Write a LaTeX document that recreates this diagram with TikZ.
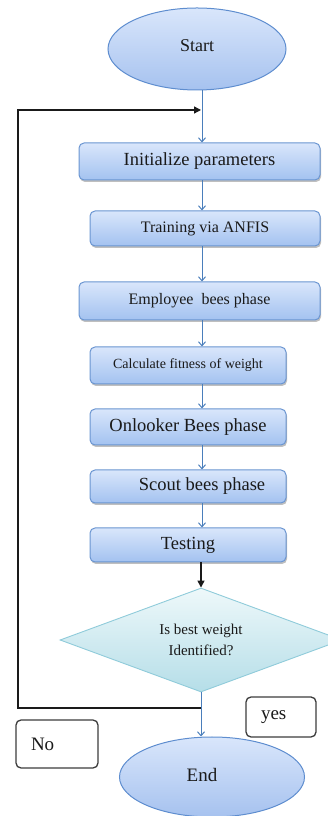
\documentclass[tikz,border=0pt]{standalone}
\usepackage{fontspec}
\setmainfont{Liberation Serif}
\usetikzlibrary{shapes.geometric,arrows.meta,shadows}

\definecolor{boxtop}{HTML}{D9E6FB}
\definecolor{boxbot}{HTML}{A3C2F0}
\definecolor{boxline}{HTML}{6A95D1}
\definecolor{elltop}{HTML}{D9E6FB}
\definecolor{ellbot}{HTML}{A6C2EF}
\definecolor{ellline}{HTML}{5E8DCF}
\definecolor{diatop}{HTML}{EEF8FA}
\definecolor{diabot}{HTML}{B5DEE8}
\definecolor{dialine}{HTML}{8FCBDA}
\definecolor{flow}{HTML}{4A7EBB}
\definecolor{ink}{HTML}{1A1A1A}

\newcommand{\fs}[1]{\fontsize{#1}{#1}\selectfont}

\tikzset{
  procbox/.style={rectangle, rounded corners=5pt, draw=boxline, line width=1pt,
    top color=boxtop, bottom color=boxbot, inner sep=0pt, text=ink,
    drop shadow={shadow xshift=1pt, shadow yshift=-2pt, opacity=0.25, fill=black}},
  terminal/.style={ellipse, draw=ellline, line width=1pt, top color=elltop,
    bottom color=ellbot, inner sep=0pt, text=ink},
  decision/.style={diamond, aspect=2.7, draw=dialine, line width=0.9pt,
    top color=diatop, bottom color=diabot, inner sep=0pt, text=ink, align=center},
  tagbox/.style={rectangle, rounded corners=5pt, draw=ink!85, line width=1.3pt,
    fill=white, align=left, inner xsep=15pt, text=ink, anchor=center},
  flowarrow/.style={draw=flow, line width=1pt, -{Straight Barb[length=4pt,width=7pt]}},
  blackarrow/.style={draw=ink, line width=1.4pt, -{Triangle[length=7pt,width=7pt]}},
}

\begin{document}
\begin{tikzpicture}[x=1pt,y=1pt]
  \useasboundingbox (0,0) rectangle (328,816);

  % vertical line carrying the main flow
  \coordinate (spine) at (202,0);

  % terminals and process steps
  \node[terminal, minimum width=178pt, minimum height=82pt] (start) at (197,767) {\fs{18}\raisebox{6pt}{Start}};
  \node[procbox, minimum width=241pt, minimum height=37pt] (init) at (199.5,654.5) {\fs{18.5}Initialize parameters};
  \node[procbox, minimum width=230pt, minimum height=35pt] (train) at (205,587.5) {\fs{16}Training via ANFIS};
  \node[procbox, minimum width=241pt, minimum height=38pt] (employ) at (199.5,515) {\fs{16}Employee\ \ bees phase};
  \node[procbox, minimum width=196pt, minimum height=37pt] (fit) at (188,450.5) {\fs{14}Calculate fitness of weight};
  \node[procbox, minimum width=196pt, minimum height=36pt] (onlook) at (188,389) {\fs{18.5}Onlooker Bees phase};
  \node[procbox, minimum width=196pt, minimum height=33pt] (scout) at (188,329.5) {\fs{18.5}\hspace*{28pt}Scout bees phase};
  \node[procbox, minimum width=196pt, minimum height=34pt] (test) at (188,271) {\fs{18.5}Testing};
  \node[decision, minimum width=282pt, minimum height=104pt,
        font=\fontsize{15}{21}\selectfont] (check) at (201,176)
    {Is best weight\\Identified?};
  \node[terminal, minimum width=185pt, minimum height=80pt] (finish) at (212,39) {\fs{19}\raisebox{5pt}{End}\hspace*{20pt}};

  % branch labels
  \node[tagbox, minimum width=70pt, minimum height=40pt, text width=40pt,
        font=\fs{19}] (yes) at (281,99) {yes};
  \node[tagbox, minimum width=82pt, minimum height=48pt, text width=52pt,
        font=\fs{19}] (no) at (57,72) {No};

  % main flow
  \draw[flowarrow] (start.south -| spine) -- (init.north -| spine);
  \draw[flowarrow] (init.south -| spine) -- (train.north -| spine);
  \draw[flowarrow] (train.south -| spine) -- (employ.north -| spine);
  \draw[flowarrow] (employ.south -| spine) -- (fit.north -| spine);
  \draw[flowarrow] (fit.south -| spine) -- (onlook.north -| spine);
  \draw[flowarrow] (onlook.south -| spine) -- (scout.north -| spine);
  \draw[flowarrow] (scout.south -| spine) -- (test.north -| spine);
  \draw[blackarrow] (test.south -| check.north) -- (check.north);
  \draw[flowarrow] (check.south) -- (check.south |- finish.north);

  % return loop back to the start of the cycle
  \coordinate (split) at (check.south |- 0,108);
  \coordinate (loopA) at (18,108);
  \coordinate (loopB) at (18,706);
  \coordinate (entry) at (201,706);
  \draw[blackarrow] (split) -- (loopA) -- (loopB) -- (entry);
\end{tikzpicture}
\end{document}
